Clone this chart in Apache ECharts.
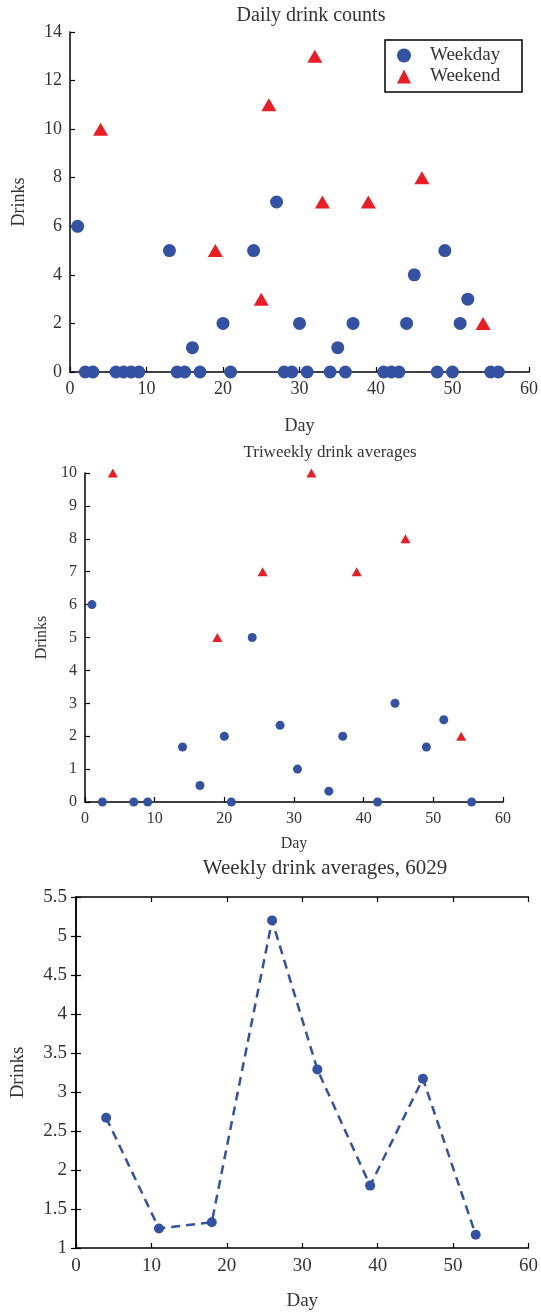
<!DOCTYPE html>
<html>
<head>
<meta charset="utf-8">
<script src="https://cdn.jsdelivr.net/npm/echarts@6.0.0/dist/echarts.min.js"></script>
<style>
  html, body { margin: 0; padding: 0; background: #fff; }
  #chart { width: 541px; height: 1316px; }
</style>
</head>
<body>
<div id="chart"></div>
<script>
// Daily drink counts (day, drinks)
const dailyWeekday = [
  [1, 6], [2, 0], [3, 0], [6, 0], [7, 0], [8, 0], [9, 0], [13, 5], [14, 0], [15, 0],
  [16, 1], [17, 0], [20, 2], [21, 0], [24, 5], [27, 7], [28, 0], [29, 0], [30, 2], [31, 0],
  [34, 0], [35, 1], [36, 0], [37, 2], [41, 0], [42, 0], [43, 0], [44, 2], [45, 4], [48, 0],
  [49, 5], [50, 0], [51, 2], [52, 3], [55, 0], [56, 0]
];
const dailyWeekend = [
  [4, 10], [19, 5], [25, 3], [26, 11], [32, 13], [33, 7], [39, 7], [46, 8], [54, 2]
];

// Triweekly averages
const triWeekday = [
  [1, 6], [2.5, 0], [7, 0], [9, 0], [14, 1.67], [16.5, 0.5], [20, 2], [21, 0], [24, 5],
  [28, 2.33], [30.5, 1], [35, 0.33], [37, 2], [42, 0], [44.5, 3], [49, 1.67], [51.5, 2.5], [55.5, 0]
];
const triWeekend = [
  [4, 10], [19, 5], [25.5, 7], [32.5, 10], [39, 7], [46, 8], [54, 2]
];

// Weekly averages
const weeklyDays = [4, 11, 18, 26, 32, 39, 46, 53];
const weeklyAvg = [2.67, 1.25, 1.33, 5.2, 3.29, 1.8, 3.17, 1.17];

const BLUE = '#3352a3';
const RED = '#ec1c24';
const TEXT = '#333';
const FONT = '"Liberation Serif", "DejaVu Serif", serif';

const chart = echarts.init(document.getElementById('chart'), null, { renderer: 'canvas' });

function valueAxis(opts) {
  return Object.assign({
    type: 'value',
    axisLine: { show: true, lineStyle: { color: '#000', width: 1.5 } },
    axisTick: { show: true, inside: true, length: 5, lineStyle: { color: '#000', width: 1.2 } },
    axisLabel: { color: TEXT, fontFamily: FONT, fontSize: 18, margin: 8 },
    splitLine: { show: false },
    nameLocation: 'middle',
    nameTextStyle: { color: TEXT, fontFamily: FONT, fontSize: 18 }
  }, opts);
}

const option = {
  animation: false,
  textStyle: { fontFamily: FONT },
  graphic: [
    { type: 'text', x: 311, y: 6, style: { text: 'Daily drink counts', font: '20px ' + FONT, fill: TEXT, textAlign: 'center' } },
    { type: 'text', x: 330, y: 444, style: { text: 'Triweekly drink averages', font: '17px ' + FONT, fill: TEXT, textAlign: 'center' } },
    { type: 'text', x: 325, y: 858, style: { text: 'Weekly drink averages, 6029', font: '21px ' + FONT, fill: TEXT, textAlign: 'center' } }
  ],
  legend: {
    data: [
      { name: 'Weekday', icon: 'circle' },
      { name: 'Weekend', icon: 'triangle' }
    ],
    orient: 'vertical',
    left: 385,
    top: 40,
    padding: [5, 8, 5, 12],
    itemGap: 0,
    itemWidth: 14,
    itemHeight: 14,
    borderColor: '#000',
    borderWidth: 1.5,
    borderRadius: 0,
    textStyle: { color: TEXT, fontFamily: FONT, fontSize: 19, lineHeight: 21, width: 84, padding: [0, 0, 0, 14] }
  },
  grid: [
    { left: 70, right: 12, top: 32, height: 340 },
    { left: 85, right: 38, top: 473, height: 329 },
    { left: 76, right: 10, top: 897, height: 351 }
  ],
  xAxis: [
    valueAxis({ gridIndex: 0, min: 0, max: 60, interval: 10, name: 'Day', nameGap: 45 }),
    valueAxis({ gridIndex: 1, min: 0, max: 60, interval: 10, name: 'Day', nameGap: 34,
      axisLabel: { color: TEXT, fontFamily: FONT, fontSize: 16, margin: 9 },
      nameTextStyle: { color: TEXT, fontFamily: FONT, fontSize: 16 } }),
    valueAxis({ gridIndex: 2, min: 0, max: 60, interval: 10, name: 'Day', nameGap: 44,
      axisLabel: { color: TEXT, fontFamily: FONT, fontSize: 19, margin: 9 },
      nameTextStyle: { color: TEXT, fontFamily: FONT, fontSize: 19 } }),
    valueAxis({ gridIndex: 2, min: 0, max: 60, interval: 10, position: 'top', axisLabel: { show: false } })
  ],
  yAxis: [
    valueAxis({ gridIndex: 0, min: 0, max: 14, interval: 2, name: 'Drinks', nameGap: 42 }),
    valueAxis({ gridIndex: 1, min: 0, max: 10, interval: 1, name: 'Drinks', nameGap: 30,
      axisLabel: { color: TEXT, fontFamily: FONT, fontSize: 16, margin: 8 },
      nameTextStyle: { color: TEXT, fontFamily: FONT, fontSize: 16 } }),
    valueAxis({ gridIndex: 2, min: 1, max: 5.5, interval: 0.5, name: 'Drinks', nameGap: 48,
      axisLabel: { color: TEXT, fontFamily: FONT, fontSize: 19, margin: 9 },
      nameTextStyle: { color: TEXT, fontFamily: FONT, fontSize: 19 } }),
    valueAxis({ gridIndex: 2, min: 1, max: 5.5, interval: 0.5, position: 'right', axisLabel: { show: false } })
  ],
  series: [
    {
      name: 'Weekday', type: 'scatter', xAxisIndex: 0, yAxisIndex: 0,
      data: dailyWeekday, symbol: 'circle', symbolSize: 13,
      itemStyle: { color: BLUE, opacity: 1 }
    },
    {
      name: 'Weekend', type: 'scatter', xAxisIndex: 0, yAxisIndex: 0,
      data: dailyWeekend, symbol: 'triangle', symbolSize: [15, 13],
      itemStyle: { color: RED, opacity: 1 }
    },
    {
      type: 'scatter', xAxisIndex: 1, yAxisIndex: 1,
      data: triWeekday, symbol: 'circle', symbolSize: 9,
      itemStyle: { color: BLUE, opacity: 1 }
    },
    {
      type: 'scatter', xAxisIndex: 1, yAxisIndex: 1,
      data: triWeekend, symbol: 'triangle', symbolSize: [10, 9],
      itemStyle: { color: RED, opacity: 1 }
    },
    {
      type: 'line', xAxisIndex: 2, yAxisIndex: 2,
      data: weeklyDays.map((d, i) => [d, weeklyAvg[i]]),
      symbol: 'circle', symbolSize: 10, showSymbol: true,
      lineStyle: { color: BLUE, width: 2.5, type: [9, 6] },
      itemStyle: { color: BLUE }
    }
  ]
};

chart.setOption(option);
window.addEventListener('resize', () => chart.resize());
</script>
</body>
</html>
